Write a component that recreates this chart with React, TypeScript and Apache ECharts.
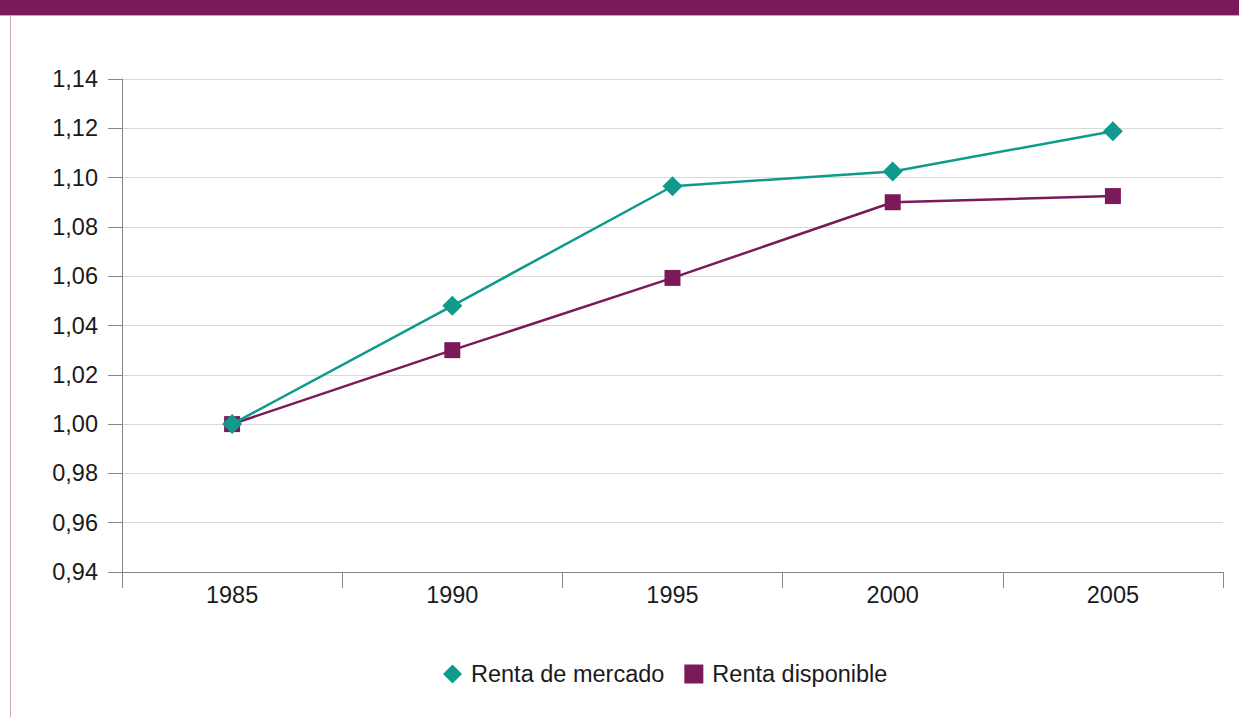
import React, { useEffect, useRef } from "react";
import * as echarts from "echarts";

const years = ["1985", "1990", "1995", "2000", "2005"];
const rentaMercado = [1.0, 1.048, 1.0965, 1.1025, 1.1188];
const rentaDisponible = [1.0, 1.03, 1.0593, 1.09, 1.0925];
const seriesNames = ["Renta de mercado", "Renta disponible"];

const TEAL = "#0e9a8c";
const PURPLE = "#7b1a5a";
const FONT = "'Liberation Sans', Arial, sans-serif";
const FS = 23.5;

export default function App() {
  const ref = useRef<HTMLDivElement>(null);
  useEffect(() => {
    if (!ref.current) return;
    const chart = echarts.init(ref.current, undefined, { renderer: "svg" });
    chart.setOption({
      animation: false,
      backgroundColor: "#ffffff",
      textStyle: { fontFamily: FONT },
      graphic: [
        { type: "rect", left: 0, top: 0, shape: { width: 1239, height: 15 }, style: { fill: PURPLE } },
        { type: "rect", left: 0, top: 15, shape: { width: 1239, height: 1 }, style: { fill: "#c9a3bc" } },
        { type: "rect", left: 10, top: 16, shape: { width: 1, height: 701 }, style: { fill: "#c9a9bd" } },
      ],
      grid: { left: 122, right: 16, top: 79, bottom: 145, containLabel: false },
      legend: {
        bottom: 31,
        left: 443,
        padding: 0,
        itemWidth: 19,
        itemHeight: 19,
        itemGap: 20,
        textStyle: { fontSize: FS, color: "#1a1a1a", fontFamily: FONT, padding: [0, 0, 0, 4] },
        data: [
          { name: seriesNames[0], icon: "diamond" },
          { name: seriesNames[1], icon: "rect" },
        ],
      },
      xAxis: {
        type: "category",
        data: years,
        boundaryGap: true,
        axisLine: { lineStyle: { color: "#868686", width: 1 } },
        axisTick: { show: true, length: 16, interval: 0, lineStyle: { color: "#868686" } },
        axisLabel: { fontSize: FS, color: "#1a1a1a", margin: 11, fontFamily: FONT },
        splitLine: { show: false },
      },
      yAxis: {
        type: "value",
        min: 0.94,
        max: 1.14,
        interval: 0.02,
        axisLine: { show: true, lineStyle: { color: "#868686", width: 1 } },
        axisTick: { show: true, length: 14, lineStyle: { color: "#868686" } },
        axisLabel: {
          fontSize: FS,
          color: "#1a1a1a",
          margin: 24,
          fontFamily: FONT,
          formatter: (v: number) => v.toFixed(2).replace(".", ","),
        },
        splitLine: { lineStyle: { color: "#d9d9d9", width: 1 } },
      },
      series: [
        {
          name: seriesNames[1],
          type: "line",
          data: rentaDisponible,
          symbol: "rect",
          symbolSize: 16,
          lineStyle: { color: PURPLE, width: 2.5 },
          itemStyle: { color: PURPLE },
          z: 2,
        },
        {
          name: seriesNames[0],
          type: "line",
          data: rentaMercado,
          symbol: "diamond",
          symbolSize: 20,
          lineStyle: { color: TEAL, width: 2.5 },
          itemStyle: { color: TEAL },
          z: 3,
        },
      ],
    });
    return () => chart.dispose();
  }, []);
  return (
    <div style={{ position: "fixed", left: 0, top: 0, width: 1239, height: 717, background: "#fff" }}>
      <div ref={ref} style={{ width: 1239, height: 717 }} />
    </div>
  );
}
